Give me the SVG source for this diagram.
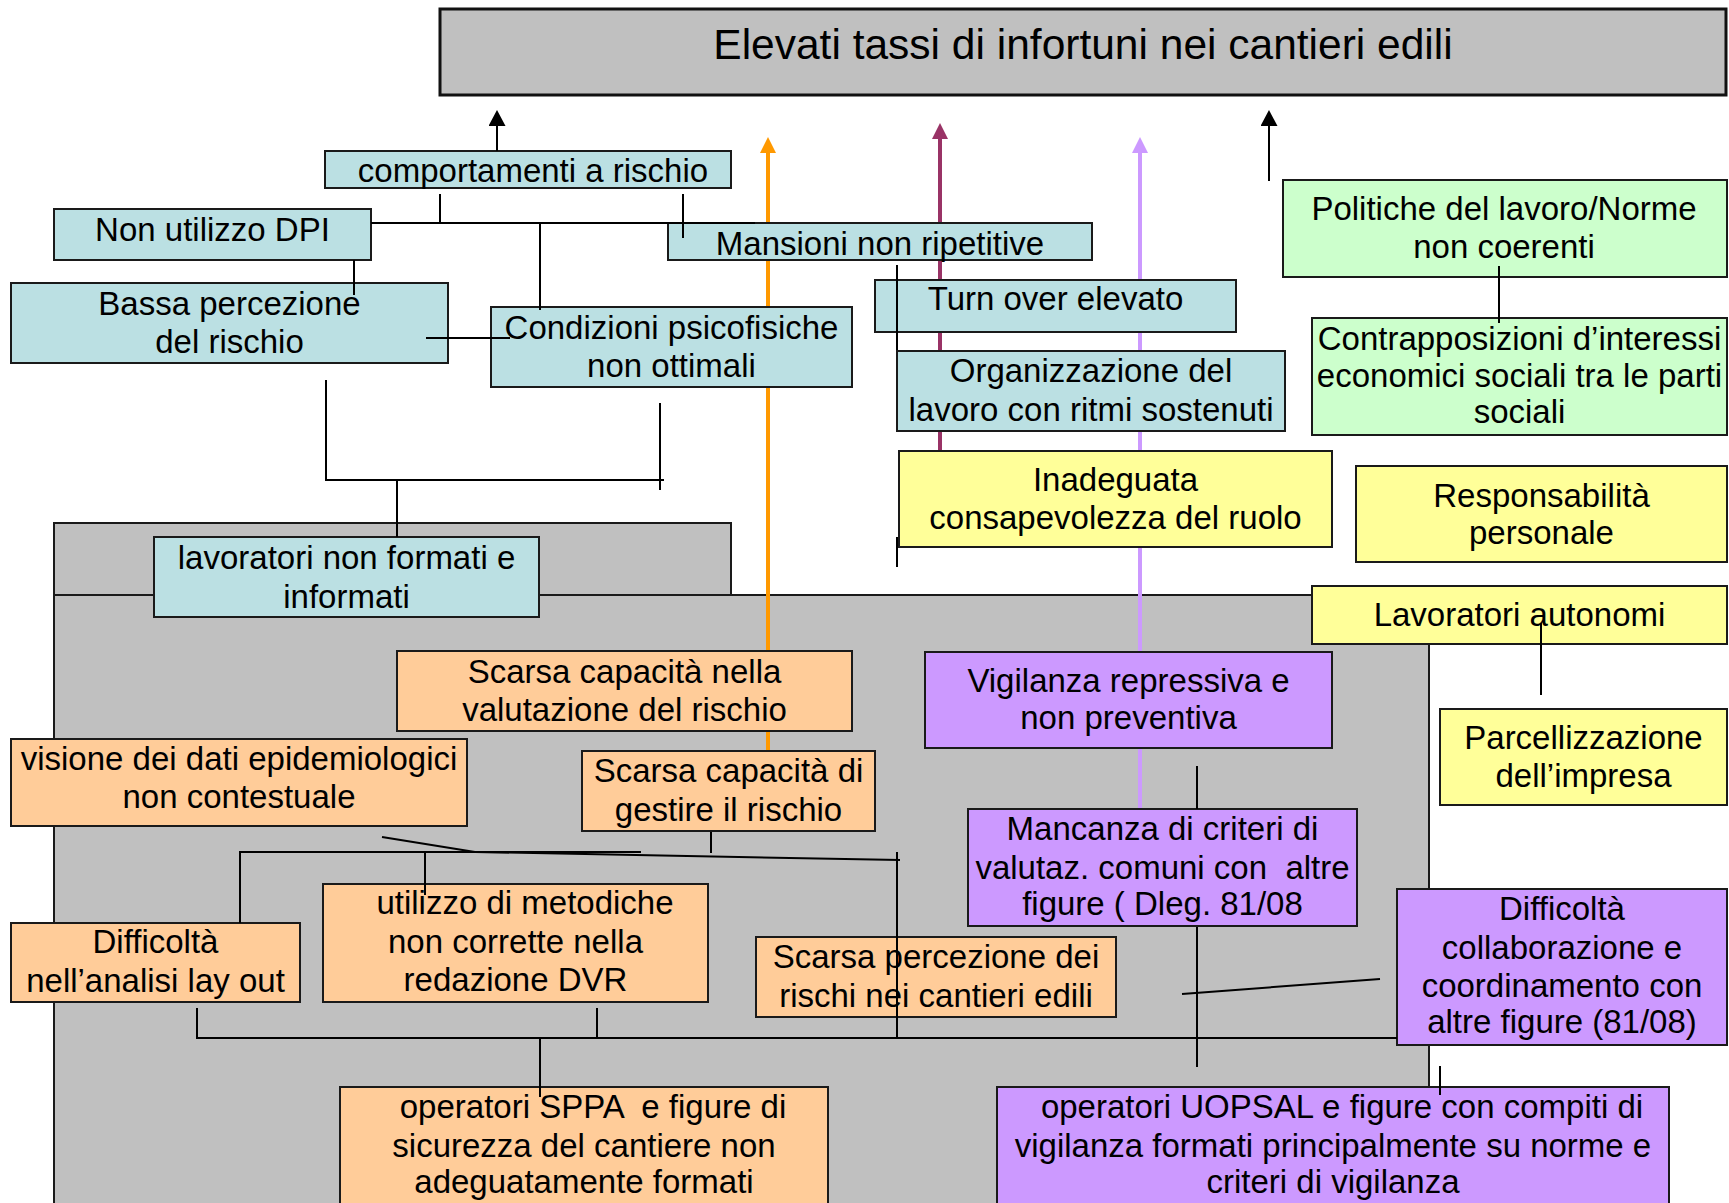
<svg xmlns="http://www.w3.org/2000/svg" width="1729" height="1203" viewBox="0 0 1729 1203">
<style>
  .box{stroke:#1a1a1a;stroke-width:2}
  .blue{fill:#BBE0E3}
  .green{fill:#CCFFCC}
  .yellow{fill:#FFFF99}
  .peach{fill:#FFCC99}
  .purple{fill:#CC99FF}
  .gray{fill:#C0C0C0;stroke:#1a1a1a;stroke-width:2}
  text{font-family:"Liberation Sans",Arial,sans-serif;font-size:33px;fill:#000;text-anchor:middle}
  .title{font-size:42.5px}
  .ln{fill:none;stroke:#000;stroke-width:2}
</style>
<defs>
  <marker id="ah-black" viewBox="0 0 16 17" refX="0" refY="8.5" markerWidth="16" markerHeight="17" markerUnits="userSpaceOnUse" orient="auto"><path d="M0,0 L16,8.5 L0,17 z" fill="#000"/></marker>
  <marker id="ah-orange" viewBox="0 0 16 16" refX="0" refY="8" markerWidth="16" markerHeight="16" markerUnits="userSpaceOnUse" orient="auto"><path d="M0,0 L16,8 L0,16 z" fill="#FF9900"/></marker>
  <marker id="ah-maroon" viewBox="0 0 16 16" refX="0" refY="8" markerWidth="16" markerHeight="16" markerUnits="userSpaceOnUse" orient="auto"><path d="M0,0 L16,8 L0,16 z" fill="#993366"/></marker>
  <marker id="ah-lav" viewBox="0 0 16 16" refX="0" refY="8" markerWidth="16" markerHeight="16" markerUnits="userSpaceOnUse" orient="auto"><path d="M0,0 L16,8 L0,16 z" fill="#CC99FF"/></marker>
</defs>
<rect width="1729" height="1203" fill="#fff"/>

<g id="background">
  <rect class="gray" x="54" y="523" width="677" height="72"/>
  <rect class="gray" x="54" y="595" width="1375" height="620"/>
</g>

<g id="colored-arrows">
  <path d="M768,751 V153" stroke="#FF9900" stroke-width="4" fill="none" marker-end="url(#ah-orange)"/>
  <path d="M940,451 V139" stroke="#993366" stroke-width="4" fill="none" marker-end="url(#ah-maroon)"/>
  <path d="M1140,809 V153" stroke="#CC99FF" stroke-width="4" fill="none" marker-end="url(#ah-lav)"/>
</g>

<g id="title">
  <rect x="440" y="9" width="1286" height="86" fill="#C0C0C0" stroke="#111" stroke-width="3"/>
  <text class="title" x="1083" y="59">Elevati tassi di infortuni nei cantieri edili</text>
</g>

<g id="n-comportamenti"><rect class="box blue" x="325" y="151" width="406" height="37"/><text x="533" y="182">comportamenti a rischio</text></g>
<g id="n-dpi"><rect class="box blue" x="54" y="209" width="317" height="51"/><text x="212.5" y="241">Non utilizzo DPI</text></g>
<g id="n-bassa"><rect class="box blue" x="11" y="283" width="437" height="80"/><text x="229.5" y="315">Bassa percezione</text><text x="229.5" y="352.5">del rischio</text></g>
<g id="n-condizioni"><rect class="box blue" x="491" y="307" width="361" height="80"/><text x="671.5" y="339">Condizioni psicofisiche</text><text x="671.5" y="377">non ottimali</text></g>
<g id="n-mansioni"><rect class="box blue" x="668" y="223" width="424" height="37"/><text x="880" y="255">Mansioni non ripetitive</text></g>
<g id="n-turnover"><rect class="box blue" x="875" y="280" width="361" height="52"/><text x="1055.5" y="310">Turn over elevato</text></g>
<g id="n-organizzazione"><rect class="box blue" x="897" y="351" width="388" height="80"/><text x="1091" y="382">Organizzazione del</text><text x="1091" y="420.5">lavoro con ritmi sostenuti</text></g>
<g id="n-politiche"><rect class="box green" x="1283" y="180" width="444" height="97"/><text x="1504" y="220">Politiche del lavoro/Norme</text><text x="1504" y="258">non coerenti</text></g>
<g id="n-contrapposizioni"><rect class="box green" x="1312" y="318" width="415" height="117"/><text x="1519.5" y="350">Contrapposizioni d’interessi</text><text x="1519.5" y="387">economici sociali tra le parti</text><text x="1519.5" y="423">sociali</text></g>
<g id="n-inadeguata"><rect class="box yellow" x="899" y="451" width="433" height="96"/><text x="1115.5" y="491">Inadeguata</text><text x="1115.5" y="528.5">consapevolezza del ruolo</text></g>
<g id="n-responsabilita"><rect class="box yellow" x="1356" y="466" width="371" height="96"/><text x="1541.5" y="507">Responsabilità</text><text x="1541.5" y="544">personale</text></g>
<g id="n-autonomi"><rect class="box yellow" x="1312" y="586" width="415" height="58"/><text x="1519.5" y="626">Lavoratori autonomi</text></g>
<g id="n-parcellizzazione"><rect class="box yellow" x="1440" y="709" width="287" height="96"/><text x="1583.5" y="749">Parcellizzazione</text><text x="1583.5" y="787">dell’impresa</text></g>
<g id="n-lavoratori"><rect class="box blue" x="154" y="537" width="385" height="80"/><text x="346.5" y="569">lavoratori non formati e</text><text x="346.5" y="607.5">informati</text></g>
<g id="n-valutazione"><rect class="box peach" x="397" y="651" width="455" height="80"/><text x="624.5" y="683">Scarsa capacità nella</text><text x="624.5" y="720.5">valutazione del rischio</text></g>
<g id="n-visione"><rect class="box peach" x="11" y="739" width="456" height="87"/><text x="239" y="770">visione dei dati epidemiologici</text><text x="239" y="808">non contestuale</text></g>
<g id="n-gestire"><rect class="box peach" x="582" y="751" width="293" height="80"/><text x="728.5" y="782">Scarsa capacità di</text><text x="728.5" y="820.5">gestire il rischio</text></g>
<g id="n-vigilanza"><rect class="box purple" x="925" y="652" width="407" height="96"/><text x="1128.5" y="692">Vigilanza repressiva e</text><text x="1128.5" y="729">non preventiva</text></g>
<g id="n-mancanza"><rect class="box purple" x="968" y="809" width="389" height="117"/><text x="1162.5" y="840">Mancanza di criteri di</text><text x="1162.5" y="879" xml:space="preserve">valutaz. comuni con  altre</text><text x="1162.5" y="915">figure ( Dleg. 81/08</text></g>
<g id="n-collaborazione"><rect class="box purple" x="1397" y="889" width="330" height="156"/><text x="1562" y="920">Difficoltà</text><text x="1562" y="959">collaborazione e</text><text x="1562" y="997">coordinamento con</text><text x="1562" y="1033">altre figure (81/08)</text></g>
<g id="n-percezione"><rect class="box peach" x="756" y="937" width="360" height="80"/><text x="936" y="968">Scarsa percezione dei</text><text x="936" y="1006.5">rischi nei cantieri edili</text></g>
<g id="n-layout"><rect class="box peach" x="11" y="923" width="289" height="79"/><text x="155.5" y="953">Difficoltà</text><text x="155.5" y="991.5">nell’analisi lay out</text></g>
<g id="n-metodiche"><rect class="box peach" x="323" y="884" width="385" height="118"/><text x="525" y="914">utilizzo di metodiche</text><text x="515.5" y="952.5">non corrette nella</text><text x="515.5" y="991">redazione DVR</text></g>
<g id="n-sppa"><rect class="box peach" x="340" y="1087" width="488" height="130"/><text x="593" y="1118" xml:space="preserve">operatori SPPA  e figure di</text><text x="584" y="1156.5">sicurezza del cantiere non</text><text x="584" y="1193">adeguatamente formati</text></g>
<g id="n-uopsal"><rect class="box purple" x="997" y="1087" width="672" height="130"/><text x="1342" y="1118">operatori UOPSAL e figure con compiti di</text><text x="1333" y="1156.5">vigilanza formati principalmente su norme e</text><text x="1333" y="1193">criteri di vigilanza</text></g>

<g id="connectors">
  <path class="ln" d="M497,151 V126" marker-end="url(#ah-black)"/>
  <path class="ln" d="M1269,181 V126" marker-end="url(#ah-black)"/>
  <path class="ln" d="M440,194 V224"/>
  <path class="ln" d="M683,194 V238"/>
  <path class="ln" d="M371,223 H755"/>
  <path class="ln" d="M540,223 V310"/>
  <path class="ln" d="M354,260 V295"/>
  <path class="ln" d="M426,338 H510"/>
  <path class="ln" d="M326,380 V480 H664"/>
  <path class="ln" d="M660,403 V490"/>
  <path class="ln" d="M397,480 V537"/>
  <path class="ln" d="M1499,266 V323"/>
  <path class="ln" d="M897,265 V350"/>
  <path class="ln" d="M897,537 V567"/>
  <path class="ln" d="M1541,623 V695"/>
  <path class="ln" d="M1197,766 V809"/>
  <path class="ln" d="M382,837 L475,852"/>
  <path class="ln" d="M240,923 V852 H641"/>
  <path class="ln" d="M468,852 H641" stroke-width="3"/>
  <path class="ln" d="M475,852 L900,860"/>
  <path class="ln" d="M425,852 V895"/>
  <path class="ln" d="M711,832 V853"/>
  <path class="ln" d="M897,852 V1038"/>
  <path class="ln" d="M197,1008 V1038 H1397"/>
  <path class="ln" d="M597,1008 V1038"/>
  <path class="ln" d="M540,1038 V1097"/>
  <path class="ln" d="M1197,927 V1067"/>
  <path class="ln" d="M1182,994 L1380,979"/>
  <path class="ln" d="M1440,1066 V1095"/>
</g>
</svg>
